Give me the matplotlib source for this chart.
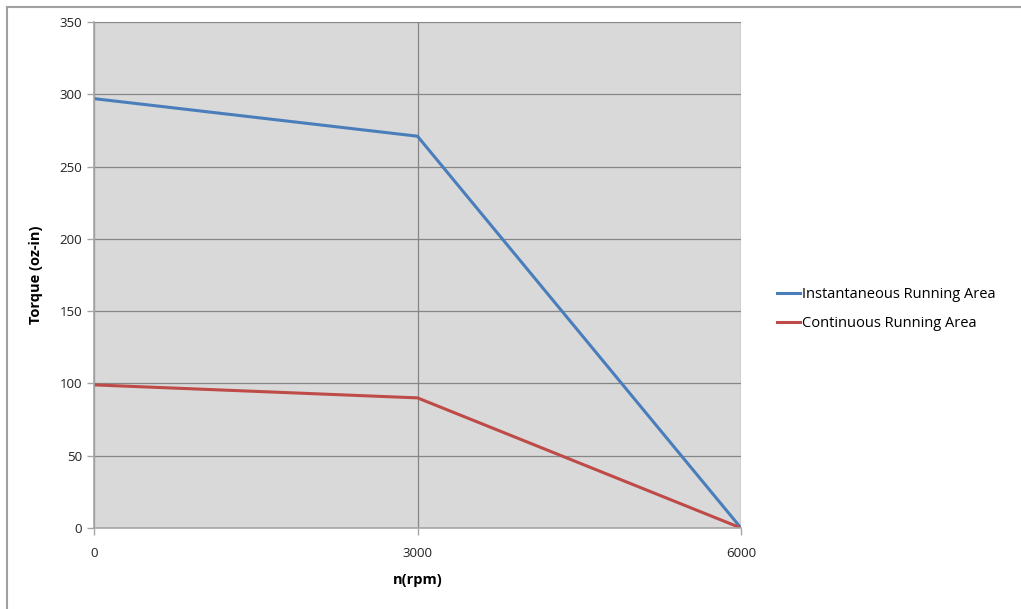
import matplotlib
matplotlib.use("Agg")
import matplotlib.pyplot as plt
from matplotlib.lines import Line2D

speed_rpm = [0, 3000, 6000]
instantaneous = [297, 271, 0]
continuous = [99, 90, 0]
x_ticks = [0, 3000, 6000]
y_ticks = [0, 50, 100, 150, 200, 250, 300, 350]

plt.rcParams['font.family'] = ['Open Sans', 'DejaVu Sans']

W, H = 1021, 609
fig = plt.figure(figsize=(W/100, H/100), dpi=100)
ax = fig.add_axes([94/W, (H-528)/H, (741-94)/W, (528-22)/H])
ax.set_facecolor('#d9d9d9')

ax.plot(speed_rpm, instantaneous, color='#4a7ebb', lw=2.2, label='Instantaneous Running Area', solid_joinstyle='round')
ax.plot(speed_rpm, continuous, color='#be4b48', lw=2.2, label='Continuous Running Area', solid_joinstyle='round')

ax.set_xlim(0, 6000)
ax.set_ylim(0, 350)
ax.set_xticks(x_ticks)
ax.set_yticks(y_ticks)
ax.grid(True, color='#868686', lw=0.9)
ax.set_axisbelow(True)
for s in ['top', 'right']:
    ax.spines[s].set_visible(False)
for s in ['left', 'bottom']:
    ax.spines[s].set_color('#a6a6a6')
    ax.spines[s].set_linewidth(1.2)
ax.tick_params(axis='both', colors='#a6a6a6', length=5, width=1, labelsize=9.5, labelcolor='#222222')
ax.tick_params(axis='x', pad=9)

ax.set_xlabel('n(rpm)', fontsize=10.5, fontweight='bold', labelpad=9)
ax.set_ylabel('Torque (oz-in)', fontsize=10.5, fontweight='bold', labelpad=12)

ax.legend(loc='center left', bbox_to_anchor=(764/W, (H-309)/H), bbox_transform=fig.transFigure,
          frameon=False, fontsize=10.5, handlelength=1.6, handletextpad=0.1, labelspacing=1.0)

fig.add_artist(Line2D([7/W, 1], [(H-7)/H, (H-7)/H], transform=fig.transFigure, color='#a0a0a0', lw=1.5))
fig.add_artist(Line2D([7/W, 7/W], [0, (H-7)/H], transform=fig.transFigure, color='#a0a0a0', lw=1.5))

fig.savefig('out.png', dpi=100)
